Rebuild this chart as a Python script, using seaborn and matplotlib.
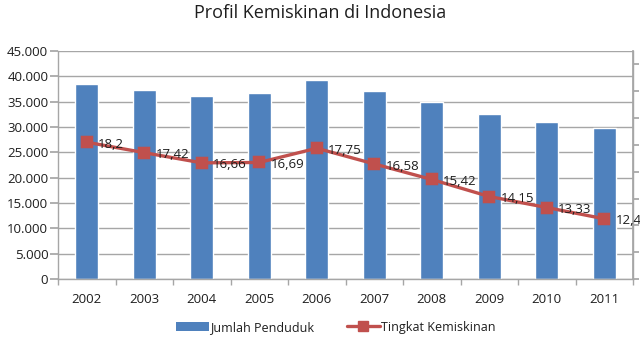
import matplotlib
matplotlib.use("Agg")
import matplotlib.pyplot as plt
import seaborn as sns
import numpy as np
import pandas as pd
from matplotlib.lines import Line2D
from matplotlib.patches import Patch
from matplotlib.ticker import FuncFormatter, FixedLocator

years = ["2002", "2003", "2004", "2005", "2006", "2007", "2008", "2009", "2010", "2011"]
penduduk = [38400, 37300, 36100, 36700, 39300, 37170, 34960, 32530, 31020, 29890]
kemiskinan = [18.2, 17.42, 16.66, 16.69, 17.75, 16.58, 15.42, 14.15, 13.33, 12.49]
rate_labels = ["18,2", "17,42", "16,66", "16,69", "17,75", "16,58", "15,42", "14,15", "13,33", "12,49"]
left_ticks = [0, 5000, 10000, 15000, 20000, 25000, 30000, 35000, 40000, 45000]
right_ticks = [8, 10, 12, 14, 16, 18, 20, 22, 24]

BLUE = "#4F81BD"
RED = "#C0504D"
GRID = "#A6A6A6"
TXT = "#1E1E1E"

sns.set_theme(style="white")
plt.rcParams["font.family"] = ["Open Sans", "DejaVu Sans"]

df = pd.DataFrame({"Tahun": years, "Penduduk": penduduk, "Rate": kemiskinan})

fig = plt.figure(figsize=(6.4, 3.52), dpi=100)
ax = fig.add_axes([58/640, 73/352, (633-58)/640, (279-51)/352])

sns.barplot(data=df, x="Tahun", y="Penduduk", ax=ax, color=BLUE, width=0.4,
            saturation=1, zorder=2)
ax.set_ylim(0, 45000)
ax.set_xlim(-0.5, len(years) - 0.5)
ax.yaxis.set_major_locator(FixedLocator(left_ticks))
ax.yaxis.set_major_formatter(FuncFormatter(lambda v, p: f"{int(v):,}".replace(",", ".")))
ax.grid(axis="y", color=GRID, linewidth=1.0, zorder=0)
ax.set_axisbelow(True)
ax.set_xlabel("")
ax.set_ylabel("")
ax.spines["top"].set_visible(False)
for s in ["left", "bottom", "right"]:
    ax.spines[s].set_color(GRID)
    ax.spines[s].set_linewidth(1.0)
ax.tick_params(axis="y", direction="out", length=6, color=GRID, labelsize=9.5, labelcolor=TXT, pad=1, left=True)
ax.tick_params(axis="x", which="major", length=0, labelsize=9.5, labelcolor=TXT, pad=10)
ax.set_xticks(np.arange(-0.5, len(years)), minor=True)
ax.tick_params(axis="x", which="minor", direction="out", length=4, color=GRID, bottom=True)

ax2 = ax.twinx()
sns.pointplot(x=years, y=kemiskinan, ax=ax2, color=RED, markers="s",
              markersize=6.5, linewidth=2.4)
ax2.set_ylim(8, 25)
ax2.set_xlim(-0.5, len(years) - 0.5)
ax2.yaxis.set_major_locator(FixedLocator(right_ticks))
ax2.tick_params(axis="y", direction="out", length=4, color=GRID, labelright=False, right=True)
for s in ["top", "left", "bottom"]:
    ax2.spines[s].set_visible(False)
ax2.spines["right"].set_color(GRID)
ax2.set_ylabel("")
ax2.grid(False)
for i, (v, lab) in enumerate(zip(kemiskinan, rate_labels)):
    ax2.annotate(lab, (i, v), xytext=(8, -1.5), textcoords="offset points",
                 ha="left", va="center", fontsize=9.5, color=TXT, clip_on=False)

fig.suptitle("Profil Kemiskinan di Indonesia", x=0.5, y=0.99, fontsize=13,
             color=TXT, va="top")

handles = [Patch(facecolor=BLUE, edgecolor="none"),
           Line2D([0], [0], color=RED, linewidth=2.4, marker="s", markersize=6.5)]
fig.legend(handles, ["Jumlah Penduduk", "Tingkat Kemiskinan"], loc="center",
           bbox_to_anchor=(0.525, 0.07), ncol=2, frameon=False, fontsize=9,
           handlelength=2.6, handletextpad=0.15, columnspacing=2.6,
           labelcolor=TXT)

fig.savefig("out.png", dpi=100)
